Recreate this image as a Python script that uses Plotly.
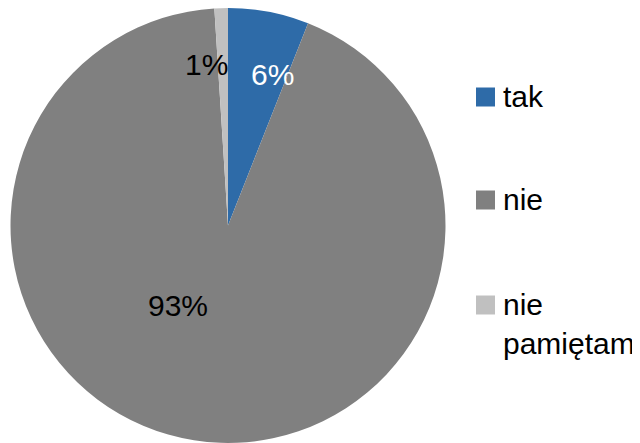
import plotly.graph_objects as go

labels = ["tak", "nie", "nie pamiętam"]
legend_text = ["tak", "nie", "nie<br>pamiętam"]
values = [6, 93, 1]
colors = ["#2E6BA8", "#808080", "#C0C0C0"]
pct_text = ["6%", "93%", "1%"]

FONT = "Liberation Sans, Arial"
FS = 30
OFF = 8  # page body margin offset compensation

W, H = 640, 443

def px(x):
    return (x - OFF) / W

def py(y):
    return 1 - (y - OFF) / H

fig = go.Figure()
fig.add_trace(go.Pie(
    labels=labels, values=values, sort=False, direction="clockwise", rotation=0,
    marker=dict(colors=colors, line=dict(width=0)),
    textinfo="none", hoverinfo="label+percent", showlegend=False,
    domain=dict(x=[px(10), px(446)], y=[py(443), py(8)]),
))

# slice labels
label_pos = [(272, 75, "white"), (178, 305, "black"), (206, 65, "black")]
for (x, y, c), t in zip(label_pos, pct_text):
    fig.add_annotation(x=px(x), y=py(y), xref="paper", yref="paper", text=t,
                       showarrow=False, font=dict(family=FONT, size=FS, color=c),
                       xanchor="center", yanchor="middle")

# legend
leg_y = [97, 200, 305]
for yc, t, c in zip(leg_y, legend_text, colors):
    fig.add_shape(type="rect", xref="paper", yref="paper",
                  x0=px(476), x1=px(495), y0=py(yc - 9.5), y1=py(yc + 9.5),
                  fillcolor=c, line=dict(width=0))
    fig.add_annotation(x=px(501), y=py(yc - 19), xref="paper", yref="paper", text=t,
                       showarrow=False, font=dict(family=FONT, size=FS, color="black"),
                       xanchor="left", yanchor="top", align="left")

fig.update_layout(width=W, height=H, margin=dict(l=0, r=0, t=0, b=0),
                  paper_bgcolor="white", plot_bgcolor="white")
fig.write_html("out.html")
